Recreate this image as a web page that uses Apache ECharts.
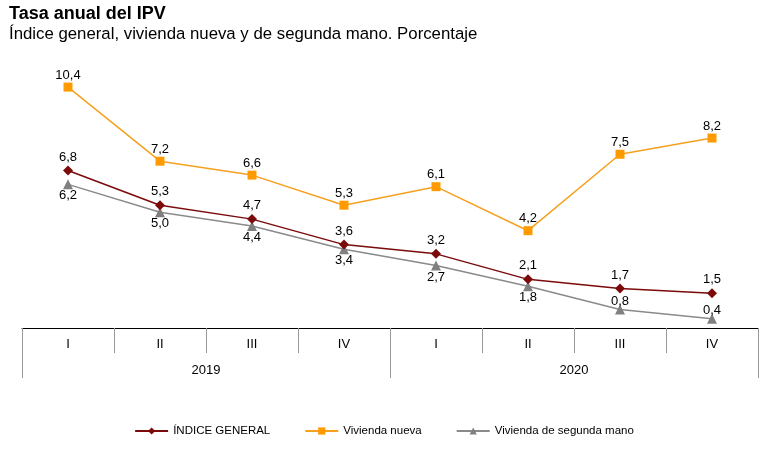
<!DOCTYPE html>
<html>
<head>
<meta charset="utf-8">
<script src="https://cdn.jsdelivr.net/npm/echarts@6/dist/echarts.min.js"></script>
<style>html,body{margin:0;padding:0;background:#fff;}#c{width:768px;height:455px;}</style>
</head>
<body>
<div id="c"></div>
<script>
const quarters = ['I','II','III','IV','I','II','III','IV'];
const years = ['2019','2020'];
const indiceGeneral = [6.8, 5.3, 4.7, 3.6, 3.2, 2.1, 1.7, 1.5];
const viviendaNueva = [10.4, 7.2, 6.6, 5.3, 6.1, 4.2, 7.5, 8.2];
const segundaMano = [6.2, 5.0, 4.4, 3.4, 2.7, 1.8, 0.8, 0.4];
const segundaManoLabelPos = ['bottom','bottom','bottom','bottom','bottom','bottom','top','top'];

const fmt = p => p.value.toFixed(1).replace('.', ',');
const font = 'Liberation Sans, Arial, sans-serif';
const lbl = {show: true, formatter: fmt, color: '#000', fontSize: 13, fontFamily: font};

const chart = echarts.init(document.getElementById('c'));
chart.setOption({
  animation: false,
  title: [
    {text: 'Tasa anual del IPV', left: 4, top: 0, textStyle: {fontSize: 18, fontWeight: 'bold', color: '#000', fontFamily: font}},
    {text: 'Índice general, vivienda nueva y de segunda mano. Porcentaje', left: 4, top: 21, textStyle: {fontSize: 16.8, fontWeight: 'normal', color: '#000', fontFamily: font}}
  ],
  grid: {left: 22, right: 10, top: 50, bottom: 127, containLabel: false},
  legend: {
    bottom: 13, left: 'center', itemWidth: 33, itemHeight: 9, itemGap: 34,
    textStyle: {fontSize: 11.5, color: '#000', fontFamily: font},
    data: ['ÍNDICE GENERAL', 'Vivienda nueva', 'Vivienda de segunda mano']
  },
  xAxis: [
    {type: 'category', position: 'bottom', data: quarters, boundaryGap: true,
     axisLine: {show: true, lineStyle: {color: '#000', width: 1}},
     axisTick: {show: true, length: 25, lineStyle: {color: '#999'}},
     axisLabel: {color: '#000', fontSize: 13, fontFamily: font, margin: 10}},
    {type: 'category', position: 'bottom', data: years, boundaryGap: true,
     axisLine: {show: false},
     axisTick: {show: true, length: 50, lineStyle: {color: '#999'}},
     axisLabel: {color: '#000', fontSize: 13, fontFamily: font, margin: 36}}
  ],
  yAxis: {type: 'value', min: 0, max: 12, show: false, splitLine: {show: false}},
  series: [
    {name: 'Vivienda nueva', type: 'line', data: viviendaNueva, symbol: 'rect', symbolSize: 9,
     itemStyle: {color: '#FF9B00'}, lineStyle: {color: '#F5A01F', width: 1.5},
     label: Object.assign({position: 'top', distance: 1}, lbl)},
    {name: 'Vivienda de segunda mano', type: 'line',
     data: segundaMano.map((v, i) => ({value: v, label: {position: segundaManoLabelPos[i], distance: segundaManoLabelPos[i] === 'top' ? -3 : 0}})),
     symbol: 'triangle', symbolSize: 10,
     itemStyle: {color: '#808080'}, lineStyle: {color: '#8a8a8a', width: 1.5},
     label: Object.assign({}, lbl)},
    {name: 'ÍNDICE GENERAL', type: 'line', data: indiceGeneral, symbol: 'diamond', symbolSize: 10,
     itemStyle: {color: '#7B0A0A'}, lineStyle: {color: '#7B0A0A', width: 1.5},
     label: Object.assign({position: 'top', distance: 2}, lbl)}
  ]
});
</script>
</body>
</html>
